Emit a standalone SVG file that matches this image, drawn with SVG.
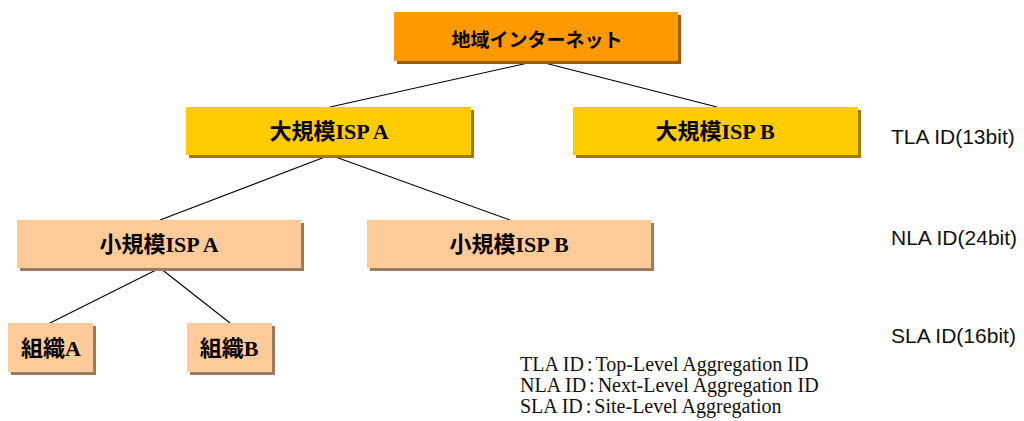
<svg xmlns="http://www.w3.org/2000/svg" width="1024" height="421" viewBox="0 0 1024 421">
<style>
.lbl{font-family:"Liberation Serif","Noto Sans CJK JP",serif;font-weight:bold;font-size:22px;fill:#000;text-anchor:middle;dominant-baseline:central}
.top{font-family:"Noto Sans CJK JP",sans-serif;font-weight:bold;font-size:19px}
.side{font-family:"Liberation Sans","DejaVu Sans",sans-serif;font-size:21px;fill:#111}
.leg{font-family:"Liberation Serif","Noto Sans CJK JP",serif;font-size:20px;fill:#111}
.c{stroke:#000;stroke-width:1.1;fill:none}
.o{fill:#FF9900}.os{fill:#9A5C00}
.y{fill:#FFCC00}.ys{fill:#A07A00}
.p{fill:#FFCC99}.ps{fill:#9C7B5E}
</style>
<rect width="1024" height="421" fill="#fff"/>
<g id="connectors">
<line class="c" x1="537" y1="61" x2="330" y2="107"/>
<line class="c" x1="537" y1="61" x2="717" y2="107"/>
<line class="c" x1="330" y1="155" x2="160" y2="220"/>
<line class="c" x1="330" y1="155" x2="510" y2="220"/>
<line class="c" x1="160" y1="268" x2="50" y2="323"/>
<line class="c" x1="160" y1="268" x2="230" y2="323"/>
</g>
<g id="n-internet">
<rect class="os" x="397" y="15" width="284" height="49"/>
<rect class="o" x="394" y="12" width="284" height="49"/>
<text class="lbl top" x="537" y="38">地域インターネット</text>
</g>
<g id="n-large-a">
<rect class="ys" x="189" y="110" width="285" height="48"/>
<rect class="y" x="186" y="107" width="285" height="48"/>
<text class="lbl" x="329" y="131">大規模ISP A</text>
</g>
<g id="n-large-b">
<rect class="ys" x="576" y="110" width="285" height="48"/>
<rect class="y" x="573" y="107" width="285" height="48"/>
<text class="lbl" x="715" y="131">大規模ISP B</text>
</g>
<g id="n-small-a">
<rect class="ps" x="20" y="223" width="284" height="48"/>
<rect class="p" x="17" y="220" width="284" height="48"/>
<text class="lbl" x="159" y="244">小規模ISP A</text>
</g>
<g id="n-small-b">
<rect class="ps" x="370" y="223" width="284" height="48"/>
<rect class="p" x="367" y="220" width="284" height="48"/>
<text class="lbl" x="509" y="244">小規模ISP B</text>
</g>
<g id="n-org-a">
<rect class="ps" x="11" y="326" width="85" height="49"/>
<rect class="p" x="8" y="323" width="85" height="49"/>
<text class="lbl" x="51" y="348">組織A</text>
</g>
<g id="n-org-b">
<rect class="ps" x="190" y="326" width="85" height="49"/>
<rect class="p" x="187" y="323" width="85" height="49"/>
<text class="lbl" x="229" y="348">組織B</text>
</g>
<g id="side-labels">
<text class="side" x="891" y="144">TLA ID(13bit)</text>
<text class="side" x="891" y="245">NLA ID(24bit)</text>
<text class="side" x="891" y="343">SLA ID(16bit)</text>
</g>
<g id="legend">
<text class="leg" x="520" y="371">TLA ID<tspan dx="3">:</tspan><tspan dx="3">Top-Level Aggregation ID</tspan></text>
<text class="leg" x="520" y="392">NLA ID<tspan dx="3">:</tspan><tspan dx="3">Next-Level Aggregation ID</tspan></text>
<text class="leg" x="520" y="413">SLA ID<tspan dx="3">:</tspan><tspan dx="3">Site-Level Aggregation</tspan></text>
</g>
</svg>
